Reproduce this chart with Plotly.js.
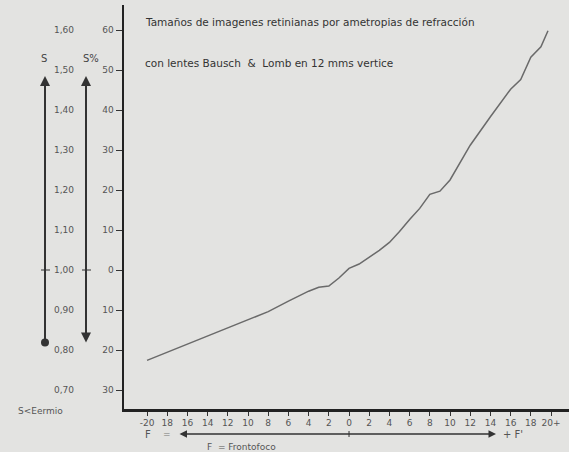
<!DOCTYPE html>
<html>
<head>
<meta charset="utf-8">
<script src="https://cdn.plot.ly/plotly-3.0.1.min.js"></script>
<style>html,body{margin:0;padding:0;background:#e3e3e1;}</style>
</head>
<body>
<div id="chart" style="width:569px;height:452px;"></div>
<script>
// Lens power (diopters) and change in retinal image size (%)
var power = [-20, -18, -16, -14, -12, -10, -8, -6, -4, -3, -2, -1, 0, 1, 2, 3, 4, 5, 6, 7, 8, 9, 10, 11, 12, 14, 16, 17, 18, 19, 19.7];
var sizeChange = [-22.6, -20.6, -18.6, -16.6, -14.5, -12.4, -10.4, -7.8, -5.3, -4.3, -4.0, -2.0, 0.4, 1.5, 3.2, 4.9, 6.9, 9.6, 12.6, 15.4, 18.9, 19.7, 22.5, 27.0, 31.2, 38.3, 45.2, 47.6, 53.2, 55.8, 59.8];

var xTickVals = [-20, -18, -16, -14, -12, -10, -8, -6, -4, -2, 0, 2, 4, 6, 8, 10, 12, 14, 16, 18, 20];
var xTickText = ["-20", "18", "16", "14", "12", "10", "8", "6", "4", "2", "0", "2", "4", "6", "8", "10", "12", "14", "16", "18", "20+"];
var yTickVals = [60, 50, 40, 30, 20, 10, 0, -10, -20, -30];
var yTickText = ["60", "50", "40", "30", "20", "10", "0", "10", "20", "30"];
var sScaleText = ["1,60", "1,50", "1,40", "1,30", "1,20", "1,10", "1,00", "0,90", "0,80", "0,70"];

var titleLine1 = "Tamaños de imagenes retinianas por ametropias de refracción";
var titleLine2 = "con lentes Bausch  &  Lomb en 12 mms vertice";

var L = 124, W = 445, T = 5, H = 404;
function px(p) { return (p - L) / W; }
function py(p) { return (T + H - p) / H; }

var txt = {family: "DejaVu Sans", size: 9, color: "#555"};

function label(x, y, text, size, color, xanchor) {
  return {xref: "paper", yref: "paper", x: px(x), y: py(y), text: text, showarrow: false,
    xanchor: xanchor || "center", yanchor: "middle",
    font: {family: "DejaVu Sans", size: size, color: color}};
}

var annotations = [];
// S scale labels
for (var i = 0; i < yTickVals.length; i++) {
  annotations.push({xref: "paper", yref: "y", x: px(64), y: yTickVals[i], text: sScaleText[i],
    showarrow: false, font: txt, xanchor: "center", yanchor: "middle"});
}
// Arrows on S and S%
annotations.push({xref: "paper", yref: "y", x: px(45), y: 48.5, ax: 0, ay: 268, text: "",
  showarrow: true, arrowside: "end+start", arrowhead: 2, startarrowhead: 6, arrowsize: 1, startarrowsize: 1,
  arrowwidth: 2, arrowcolor: "#333"});
annotations.push({xref: "paper", yref: "y", x: px(86), y: 48.5, ax: 0, ay: 268, text: "",
  showarrow: true, arrowside: "end+start", arrowhead: 2, startarrowhead: 2, arrowsize: 1, startarrowsize: 1,
  arrowwidth: 2, arrowcolor: "#333"});
annotations.push(label(44, 58, "S", 10, "#444"));
annotations.push(label(91, 58, "S%", 10, "#444"));
annotations.push(label(16, 411, "S<Eermio", 9, "#555", "left"));
// Titles
annotations.push(label(143, 22, titleLine1, 10.5, "#333", "left"));
annotations.push(label(143, 63, titleLine2, 10.5, "#333", "left"));
// Frontofoco arrow
annotations.push({xref: "paper", yref: "paper", x: px(496), y: py(434), ax: -318, ay: 0, text: "",
  showarrow: true, arrowside: "end+start", arrowhead: 2, startarrowhead: 2, arrowsize: 1, startarrowsize: 1,
  arrowwidth: 1.5, arrowcolor: "#333"});
annotations.push(label(148, 434, "F", 10, "#555"));
annotations.push(label(167, 434, "=", 9, "#777"));
annotations.push(label(513, 434, "+ F'", 10, "#555"));
annotations.push(label(205, 447, "F  = Frontofoco", 9, "#555", "left"));

var shapes = [
  {type: "line", xref: "paper", yref: "y", x0: px(41), x1: px(50), y0: 0, y1: 0, line: {color: "#333", width: 1}},
  {type: "line", xref: "paper", yref: "y", x0: px(82), x1: px(91), y0: 0, y1: 0, line: {color: "#333", width: 1}},
  {type: "line", xref: "x", yref: "paper", x0: 0, x1: 0, y0: py(431), y1: py(437), line: {color: "#333", width: 1}}
];

var data = [{
  x: power, y: sizeChange, type: "scatter", mode: "lines",
  line: {color: "#6a6a6a", width: 1.5}, hoverinfo: "skip"
}];

var layout = {
  width: 569, height: 452,
  margin: {l: L, r: 0, t: T, b: 452 - T - H},
  paper_bgcolor: "#e3e3e1", plot_bgcolor: "#e3e3e1",
  showlegend: false,
  xaxis: {
    range: [-22.28, 21.78], tickvals: xTickVals, ticktext: xTickText,
    showgrid: false, zeroline: false, showline: true, linecolor: "#222", linewidth: 2.5,
    ticks: "outside", ticklen: 4, tickwidth: 1, tickcolor: "#333",
    tickfont: {family: "DejaVu Sans", size: 9, color: "#555"}
  },
  yaxis: {
    range: [-34.75, 66.25], tickvals: yTickVals, ticktext: yTickText,
    showgrid: false, zeroline: false, showline: true, linecolor: "#222", linewidth: 2.5,
    ticks: "outside", ticklen: 6, tickwidth: 1, tickcolor: "#333",
    tickfont: {family: "DejaVu Sans", size: 9, color: "#555"}
  },
  annotations: annotations,
  shapes: shapes
};

Plotly.newPlot("chart", data, layout, {staticPlot: true, displayModeBar: false});
</script>
</body>
</html>
